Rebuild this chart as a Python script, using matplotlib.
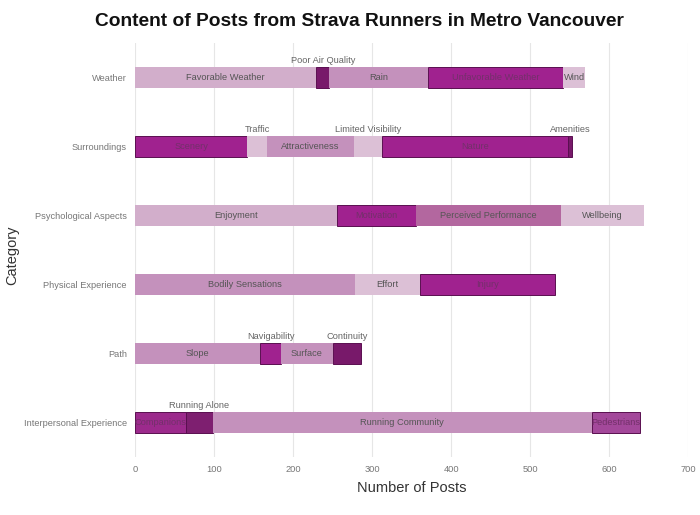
import matplotlib
matplotlib.use("Agg")
import matplotlib.pyplot as plt

categories = ["Weather", "Surroundings", "Psychological Aspects",
              "Physical Experience", "Path", "Interpersonal Experience"]

weather_labels = ["Favorable Weather", "Poor Air Quality", "Rain", "Unfavorable Weather", "Wind"]
weather_values = [229, 17, 125, 171, 28]

surroundings_labels = ["Scenery", "Traffic", "Attractiveness", "Limited Visibility", "Nature", "Amenities"]
surroundings_values = [142, 25, 110, 36, 235, 5]

psych_labels = ["Enjoyment", "Motivation", "Perceived Performance", "Wellbeing"]
psych_values = [256, 99, 184, 105]

physical_labels = ["Bodily Sensations", "Effort", "Injury"]
physical_values = [278, 82, 171]

path_labels = ["Slope", "Navigability", "Surface", "Continuity"]
path_values = [158, 27, 65, 36]

interpersonal_labels = ["Companions", "Running Alone", "Running Community", "Pedestrians"]
interpersonal_values = [65, 33, 480, 61]

VL, LT, MD, MDK, BR, DK = "#dcc0d6", "#d2aecb", "#c491bc", "#b3679f", "#a0228f", "#78196a"
colors = {
    "Favorable Weather": LT, "Poor Air Quality": DK, "Rain": MD, "Unfavorable Weather": BR, "Wind": VL,
    "Scenery": BR, "Traffic": VL, "Attractiveness": MD, "Limited Visibility": VL, "Nature": BR, "Amenities": DK,
    "Enjoyment": LT, "Motivation": BR, "Perceived Performance": MDK, "Wellbeing": VL,
    "Bodily Sensations": MD, "Effort": VL, "Injury": BR,
    "Slope": MD, "Navigability": BR, "Surface": MD, "Continuity": DK,
    "Companions": "#9c2a8c", "Running Alone": "#7e1f70", "Running Community": MD, "Pedestrians": "#a3489a",
}
dark_set = {BR, DK, "#9c2a8c", "#7e1f70", "#a3489a"}

groups = [
    (weather_labels, weather_values),
    (surroundings_labels, surroundings_values),
    (psych_labels, psych_values),
    (physical_labels, physical_values),
    (path_labels, path_values),
    (interpersonal_labels, interpersonal_values),
]

plt.rcParams["font.family"] = ["Liberation Sans", "DejaVu Sans"]
fig = plt.figure(figsize=(7, 5.15), dpi=100)
ax = fig.add_axes([0.193, 0.1126, 0.79, 0.804])

n = len(categories)
ypos = {c: n - 1 - i for i, c in enumerate(categories)}
bar_h = 0.31

texts = []
for cat, (labs, vals) in zip(categories, groups):
    y = ypos[cat]
    left = 0
    for lab, v in zip(labs, vals):
        col = colors[lab]
        ec = "#5a0f50" if col in dark_set else "none"
        ax.barh(y, v, left=left, height=bar_h, color=col, edgecolor=ec, linewidth=0.7, zorder=2)
        tcol = "#73306a" if col in dark_set else "#555555"
        t = ax.text(left + v / 2, y, lab, ha="center", va="center", fontsize=6.7,
                    color=tcol, zorder=3)
        texts.append((t, v, y, left))
        left += v

ax.set_xlim(0, 700)
ax.set_ylim(-0.5, n - 0.5)
ax.set_xticks(range(0, 701, 100))
ax.set_yticks([ypos[c] for c in categories])
ax.set_yticklabels(categories)
ax.tick_params(axis="both", length=0, labelsize=6.7, colors="#777777", pad=6)
ax.grid(axis="x", color="#e6e6e6", linewidth=0.8, zorder=0)
for s in ax.spines.values():
    s.set_visible(False)

fig.canvas.draw()
renderer = fig.canvas.get_renderer()
px_per_unit = ax.transData.transform((1, 0))[0] - ax.transData.transform((0, 0))[0]
for t, v, y, left in texts:
    w = t.get_window_extent(renderer).width
    if w > 1.15 * v * px_per_unit:
        t.set_y(y + bar_h / 2 + 0.02)
        t.set_va("bottom")
        t.set_color("#666666")

ax.set_xlabel("Number of Posts", fontsize=10.5, color="#333333", labelpad=5)
fig.text(12 / 700, 1 - 255 / 515, "Category", rotation=90, ha="center", va="center",
         fontsize=10.5, color="#333333")
fig.text(0.514, 1 - 22 / 515, "Content of Posts from Strava Runners in Metro Vancouver",
         ha="center", va="center", fontsize=13.8, fontweight="bold", color="#111111")

fig.savefig("out.png", dpi=100)
